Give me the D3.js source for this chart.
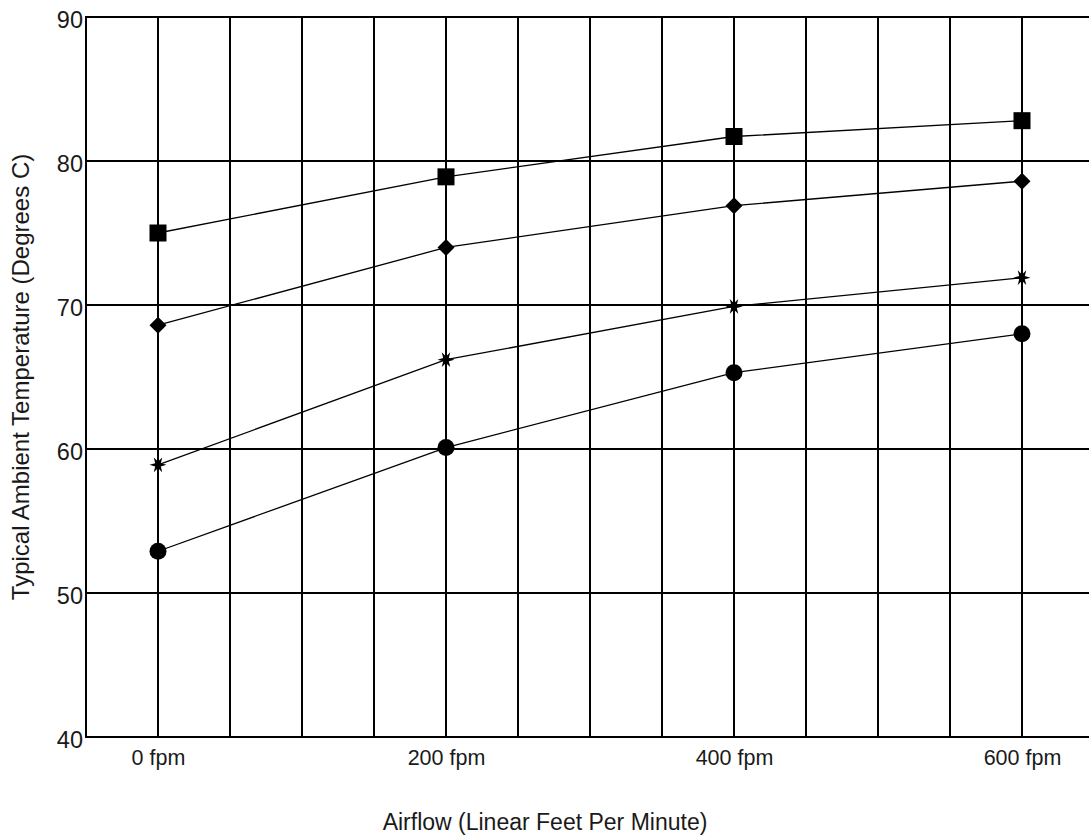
<!DOCTYPE html>
<html>
<head>
<meta charset="utf-8">
<script src="https://cdn.jsdelivr.net/npm/d3@7"></script>
<style>
  body { margin: 0; background: #fff; }
  svg { display: block; font-family: "Liberation Sans", Arial, sans-serif; }
</style>
</head>
<body>
<svg width="1089" height="836"></svg>
<script>
const SVG_WIDTH = 1089;
const SVG_HEIGHT = 836;
const LEFT = 86, RIGHT = 1094, TOP = 17, BOTTOM = 737;

// airflow in fpm
var airflow = [0, 200, 400, 600];
var xTickLabels = ["0 fpm", "200 fpm", "400 fpm", "600 fpm"];
var yTicks = [40, 50, 60, 70, 80, 90];

// typical ambient temperature, one array per curve
var squareSeries = [75.0, 78.9, 81.7, 82.8];
var diamondSeries = [68.6, 74.0, 76.9, 78.6];
var starSeries = [58.9, 66.2, 69.9, 71.9];
var circleSeries = [52.9, 60.1, 65.3, 68.0];

var svg = d3.select("svg");

var x = d3.scaleLinear().domain([-50, 650]).range([LEFT, RIGHT]);
var y = d3.scaleLinear().domain([40, 90]).range([BOTTOM, TOP]);

// vertical grid every 50 fpm
var xGrid = d3.range(-50, 651, 50);
svg.append("g")
  .selectAll("line")
  .data(xGrid)
  .enter()
  .append("line")
  .attr("x1", d => x(d))
  .attr("x2", d => x(d))
  .attr("y1", TOP)
  .attr("y2", BOTTOM)
  .attr("stroke", "black")
  .attr("stroke-width", 2);

// horizontal grid
svg.append("g")
  .selectAll("line")
  .data(yTicks)
  .enter()
  .append("line")
  .attr("x1", LEFT - 1)
  .attr("x2", RIGHT)
  .attr("y1", d => y(d))
  .attr("y2", d => y(d))
  .attr("stroke", "black")
  .attr("stroke-width", 2);

// y axis labels
var yAxis = d3.axisLeft(y).tickValues(yTicks).tickSize(0).tickPadding(3);
var gy = svg.append("g")
  .attr("transform", "translate(" + LEFT + ",0)")
  .call(yAxis);
gy.select(".domain").remove();
gy.selectAll("text")
  .attr("font-size", 23.5)
  .attr("font-family", "Liberation Sans, Arial, sans-serif")
  .attr("fill", "#1a1a1a")
  .attr("dy", "0.45em");

// x axis labels
var xAxis = d3.axisBottom(x).tickValues(airflow)
  .tickFormat((d, i) => xTickLabels[i]).tickSize(0).tickPadding(13);
var gx = svg.append("g")
  .attr("transform", "translate(0," + BOTTOM + ")")
  .call(xAxis);
gx.select(".domain").remove();
gx.selectAll("text")
  .attr("font-size", 21.5)
  .attr("font-family", "Liberation Sans, Arial, sans-serif")
  .attr("fill", "#1a1a1a");

// titles
svg.append("text")
  .attr("transform", "translate(29," + ((TOP + BOTTOM) / 2) + ") rotate(-90)")
  .attr("text-anchor", "middle")
  .attr("font-size", 24)
  .attr("fill", "#1a1a1a")
  .text("Typical Ambient Temperature (Degrees C)");

svg.append("text")
  .attr("x", 545)
  .attr("y", 830)
  .attr("text-anchor", "middle")
  .attr("font-size", 23)
  .attr("fill", "#1a1a1a")
  .text("Airflow (Linear Feet Per Minute)");

// six-pointed star marker
function starPath(r) {
  var pts = [];
  for (var i = 0; i < 12; i++) {
    var a = Math.PI / 6 * i;
    var rr = i % 2 === 0 ? r : r * 0.38;
    pts.push([rr * Math.cos(a), rr * Math.sin(a)]);
  }
  return "M" + pts.map(p => p[0].toFixed(2) + "," + p[1].toFixed(2)).join("L") + "Z";
}

var series = [
  { values: squareSeries, marker: "square" },
  { values: diamondSeries, marker: "diamond" },
  { values: starSeries, marker: "star" },
  { values: circleSeries, marker: "circle" }
];

var line = d3.line()
  .x((d, i) => x(airflow[i]))
  .y(d => y(d));

series.forEach(function (s) {
  svg.append("path")
    .datum(s.values)
    .attr("d", line)
    .attr("fill", "none")
    .attr("stroke", "black")
    .attr("stroke-width", 1.3);

  var g = svg.append("g");
  var pts = g.selectAll("path")
    .data(s.values)
    .enter()
    .append("path")
    .attr("transform", (d, i) => "translate(" + x(airflow[i]) + "," + y(d) + ")")
    .attr("fill", "black");
  if (s.marker === "square") {
    pts.attr("d", "M-8.5,-8.5H8.5V8.5H-8.5Z");
  } else if (s.marker === "diamond") {
    pts.attr("d", "M0,-8.5L8.5,0L0,8.5L-8.5,0Z");
  } else if (s.marker === "circle") {
    pts.attr("d", d3.symbol().type(d3.symbolCircle).size(Math.PI * 8.5 * 8.5)());
  } else {
    pts.attr("d", starPath(8.5));
  }
});
</script>
</body>
</html>
